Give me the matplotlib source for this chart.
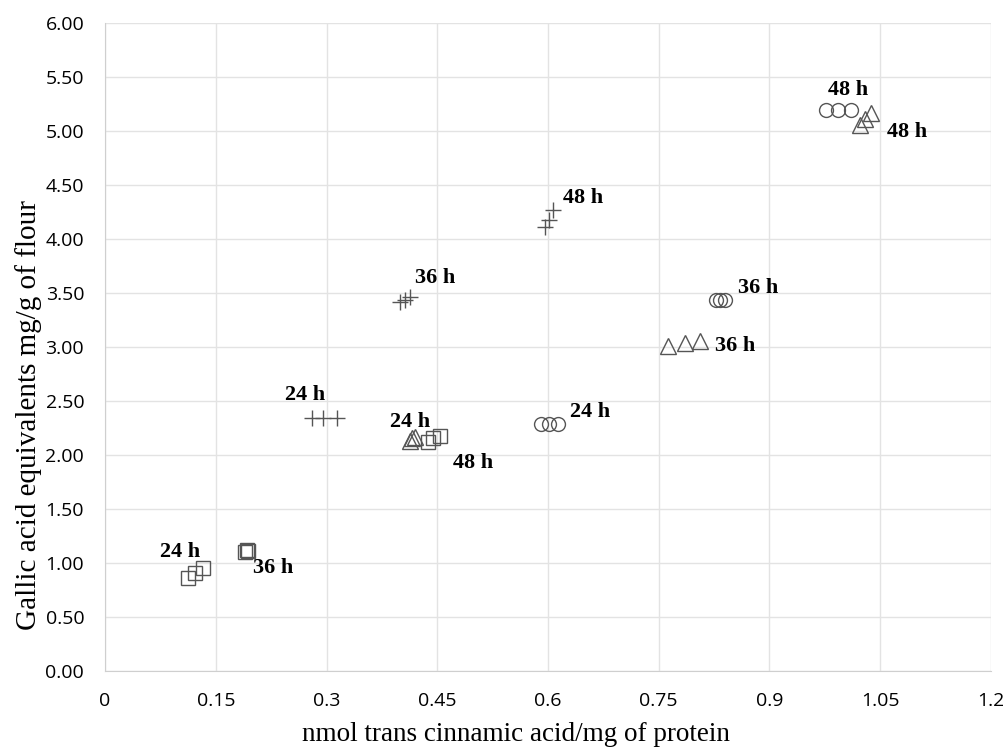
import matplotlib.pyplot as plt

# Data (x: nmol trans cinnamic acid/mg protein, y: GAE mg/g flour)
sq24_x = [0.112, 0.122, 0.133]
sq24_y = [0.86, 0.91, 0.95]
sq36_x = [0.190, 0.192, 0.193]
sq36_y = [1.10, 1.12, 1.11]
sq48_x = [0.438, 0.444, 0.454]
sq48_y = [2.12, 2.16, 2.18]

cr24_x = [0.280, 0.295, 0.314]
cr24_y = [2.34, 2.34, 2.34]
cr36_x = [0.400, 0.406, 0.413]
cr36_y = [3.42, 3.44, 3.46]
cr48_x = [0.596, 0.602, 0.607]
cr48_y = [4.11, 4.18, 4.27]

ci24_x = [0.590, 0.602, 0.614]
ci24_y = [2.29, 2.29, 2.29]
ci36_x = [0.827, 0.833, 0.840]
ci36_y = [3.44, 3.44, 3.44]
ci48_x = [0.976, 0.993, 1.011]
ci48_y = [5.20, 5.20, 5.20]

tr24_x = [0.413, 0.416, 0.420]
tr24_y = [2.13, 2.16, 2.17]
tr36_x = [0.763, 0.785, 0.806]
tr36_y = [3.01, 3.04, 3.06]
tr48_x = [1.022, 1.030, 1.038]
tr48_y = [5.06, 5.11, 5.17]

# labels: text, x, y
labels = [
    ("24 h", 0.102, 1.10), ("36 h", 0.228, 0.95), ("48 h", 0.499, 1.93),
    ("24 h", 0.271, 2.56), ("36 h", 0.447, 3.64), ("48 h", 0.648, 4.38),
    ("24 h", 0.657, 2.40), ("36 h", 0.885, 3.55), ("48 h", 1.007, 5.38),
    ("24 h", 0.413, 2.31), ("36 h", 0.854, 3.01), ("48 h", 1.087, 4.99),
]

xticks = [0, 0.15, 0.3, 0.45, 0.6, 0.75, 0.9, 1.05, 1.2]
xticklabels = ["0", "0.15", "0.3", "0.45", "0.6", "0.75", "0.9", "1.05", "1.2"]
yticks = [i * 0.5 for i in range(13)]

fig = plt.figure(figsize=(10.04, 7.51), dpi=100)
ax = fig.add_axes([0.1046, 0.1065, 0.8824, 0.8625])

edge = "#555555"
style = dict(linestyle="none", markerfacecolor="none", markeredgecolor=edge, markeredgewidth=1.0)
for xs, ys in [(sq24_x, sq24_y), (sq36_x, sq36_y), (sq48_x, sq48_y)]:
    ax.plot(xs, ys, marker="s", markersize=9.5, **style)
for xs, ys in [(cr24_x, cr24_y), (cr36_x, cr36_y), (cr48_x, cr48_y)]:
    ax.plot(xs, ys, marker="+", markersize=12, linestyle="none", color=edge, markeredgewidth=1.0)
for xs, ys in [(ci24_x, ci24_y), (ci36_x, ci36_y), (ci48_x, ci48_y)]:
    ax.plot(xs, ys, marker="o", markersize=10, **style)
for xs, ys in [(tr24_x, tr24_y), (tr36_x, tr36_y), (tr48_x, tr48_y)]:
    ax.plot(xs, ys, marker="^", markersize=11, **style)

for txt, x, y in labels:
    ax.text(x, y, txt, ha="center", va="center", fontsize=16, fontweight="bold",
            family="Liberation Serif", color="black")

ax.set_xlim(0, 1.2)
ax.set_ylim(0, 6)
ax.set_xticks(xticks)
ax.set_xticklabels(xticklabels)
ax.set_yticks(yticks)
ax.set_yticklabels([f"{v:.2f}" for v in yticks])
ax.grid(True, color="#e3e3e3", linewidth=1.0)
ax.set_axisbelow(True)
for s in ["top", "right"]:
    ax.spines[s].set_visible(False)
ax.spines["left"].set_color("#cfcfcf")
ax.spines["bottom"].set_color("#cfcfcf")
ax.tick_params(length=0, pad=15, labelsize=14)
for lab in ax.get_xticklabels() + ax.get_yticklabels():
    lab.set_family("Open Sans")

ax.set_xlabel("nmol trans cinnamic acid/mg of protein", family="Liberation Serif", fontsize=19.5)
ax.set_ylabel("Gallic acid equivalents mg/g of flour", family="Liberation Serif", fontsize=21)
ax.xaxis.set_label_coords(0.464, -0.078)
ax.yaxis.set_label_coords(-0.071, 0.395)

fig.savefig("out.png", dpi=100)
